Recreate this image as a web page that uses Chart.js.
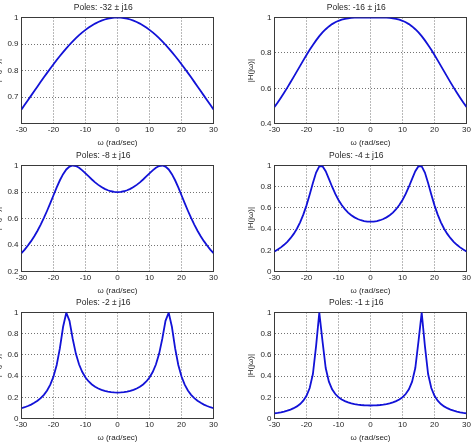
<!DOCTYPE html>
<html><head><meta charset="utf-8">
<script src="https://cdn.jsdelivr.net/npm/chart.js@4.4.1/dist/chart.umd.min.js"></script>
<style>
html,body{margin:0;padding:0;background:#fff;overflow:hidden;width:473px;height:446px;position:relative}
canvas{position:absolute}
</style></head><body>
<script>
// ---------- data ----------
const omega = [-30,-29,-28,-27,-26,-25,-24,-23,-22,-21,-20,-19,-18,-17,-16,-15,-14,-13,-12,-11,-10,-9,-8,-7,-6,-5,-4,-3,-2,-1,0,1,2,3,4,5,6,7,8,9,10,11,12,13,14,15,16,17,18,19,20,21,22,23,24,25,26,27,28,29,30];
const xTicks = [-30,-20,-10,0,10,20,30];
const titles = ['Poles: -32 \u00b1 j16','Poles: -16 \u00b1 j16','Poles: -8 \u00b1 j16','Poles: -4 \u00b1 j16','Poles: -2 \u00b1 j16','Poles: -1 \u00b1 j16'];
const xLabel = '\u03c9 (rad/sec)';
const yLabel = '|H(j\u03c9)|';

const mag32 = [0.6540,0.6711,0.6884,0.7057,0.7231,0.7404,0.7576,0.7746,0.7914,0.8079,0.8240,0.8398,0.8550,0.8698,0.8839,0.8974,0.9101,0.9222,0.9335,0.9439,0.9535,0.9623,0.9701,0.9771,0.9832,0.9883,0.9925,0.9958,0.9981,0.9995,1.0000,0.9995,0.9981,0.9958,0.9925,0.9883,0.9832,0.9771,0.9701,0.9623,0.9535,0.9439,0.9335,0.9222,0.9101,0.8974,0.8839,0.8698,0.8550,0.8398,0.8240,0.8079,0.7914,0.7746,0.7576,0.7404,0.7231,0.7057,0.6884,0.6711,0.6540];
const mag16 = [0.4945,0.5200,0.5468,0.5747,0.6038,0.6337,0.6644,0.6955,0.7267,0.7577,0.7880,0.8173,0.8450,0.8708,0.8944,0.9155,0.9339,0.9496,0.9627,0.9732,0.9815,0.9877,0.9923,0.9955,0.9975,0.9988,0.9995,0.9998,1.0000,1.0000,1.0000,1.0000,1.0000,0.9998,0.9995,0.9988,0.9975,0.9955,0.9923,0.9877,0.9815,0.9732,0.9627,0.9496,0.9339,0.9155,0.8944,0.8708,0.8450,0.8173,0.7880,0.7577,0.7267,0.6955,0.6644,0.6337,0.6038,0.5747,0.5468,0.5200,0.4945];
const mag8 = [0.3406,0.3669,0.3969,0.4303,0.4676,0.5089,0.5547,0.6049,0.6592,0.7168,0.7761,0.8346,0.8888,0.9351,0.9701,0.9918,0.9999,0.9960,0.9829,0.9636,0.9411,0.9175,0.8944,0.8730,0.8539,0.8375,0.8240,0.8135,0.8060,0.8015,0.8000,0.8015,0.8060,0.8135,0.8240,0.8375,0.8539,0.8730,0.8944,0.9175,0.9411,0.9636,0.9829,0.9960,0.9999,0.9918,0.9701,0.9351,0.8888,0.8346,0.7761,0.7168,0.6592,0.6049,0.5547,0.5089,0.4676,0.4303,0.3969,0.3669,0.3406];
const mag4 = [0.1904,0.2083,0.2290,0.2532,0.2817,0.3155,0.3560,0.4050,0.4645,0.5371,0.6247,0.7267,0.8360,0.9339,0.9923,0.9932,0.9457,0.8745,0.8000,0.7324,0.6748,0.6271,0.5882,0.5567,0.5315,0.5116,0.4961,0.4847,0.4768,0.4721,0.4706,0.4721,0.4768,0.4847,0.4961,0.5116,0.5315,0.5567,0.5882,0.6271,0.6748,0.7324,0.8000,0.8745,0.9457,0.9932,0.9923,0.9339,0.8360,0.7267,0.6247,0.5371,0.4645,0.4050,0.3560,0.3155,0.2817,0.2532,0.2290,0.2083,0.1904];
const mag2 = [0.0983,0.1080,0.1194,0.1330,0.1493,0.1691,0.1938,0.2251,0.2659,0.3207,0.3969,0.5063,0.6644,0.8657,0.9981,0.9214,0.7526,0.6106,0.5098,0.4390,0.3881,0.3505,0.3223,0.3007,0.2841,0.2714,0.2617,0.2547,0.2499,0.2471,0.2462,0.2471,0.2499,0.2547,0.2617,0.2714,0.2841,0.3007,0.3223,0.3505,0.3881,0.4390,0.5098,0.6106,0.7526,0.9214,0.9981,0.8657,0.6644,0.5063,0.3969,0.3207,0.2659,0.2251,0.1938,0.1691,0.1493,0.1330,0.1194,0.1080,0.0983];
const mag1 = [0.0496,0.0545,0.0604,0.0674,0.0758,0.0862,0.0992,0.1160,0.1384,0.1696,0.2155,0.2890,0.4207,0.6854,0.9994,0.7296,0.4768,0.3487,0.2770,0.2323,0.2022,0.1809,0.1652,0.1535,0.1446,0.1378,0.1327,0.1290,0.1265,0.1250,0.1245,0.1250,0.1265,0.1290,0.1327,0.1378,0.1446,0.1535,0.1652,0.1809,0.2022,0.2323,0.2770,0.3487,0.4768,0.7296,0.9994,0.6854,0.4207,0.2890,0.2155,0.1696,0.1384,0.1160,0.0992,0.0862,0.0758,0.0674,0.0604,0.0545,0.0496];

const yTicks32 = [0.7,0.8,0.9,1];
const yTicks16 = [0.4,0.6,0.8,1];
const yTicks8  = [0.2,0.4,0.6,0.8,1];
const yTicks0  = [0,0.2,0.4,0.6,0.8,1];
const yMins = [0.6,0.4,0.2,0,0,0];
const yMax = 1;

// ---------- layout / style ----------
const FONT = '"Liberation Sans", Arial, Helvetica, sans-serif';
const TXT = '#262626';
const BLUE = 'rgb(18,18,215)';
const GRID = 'rgba(0,0,0,0.55)';
const AXIS = '#3a3a3a';
const YW = 28.5, XH = 24.3, PADR = 28.5;

const panels = [
  {title: titles[0], values: mag32, ticks: yTicks32, min: yMins[0], showY: false, area: [21.5, 17.5, 213.5, 123.5]},
  {title: titles[1], values: mag16, ticks: yTicks16, min: yMins[1], showY: true,  area: [274.5, 17.5, 466.5, 123.5]},
  {title: titles[2], values: mag8,  ticks: yTicks8,  min: yMins[2], showY: true,  area: [21.5, 165.5, 213.5, 271.5]},
  {title: titles[3], values: mag4,  ticks: yTicks0,  min: yMins[3], showY: true,  area: [274.5, 165.5, 466.5, 271.5]},
  {title: titles[4], values: mag2,  ticks: yTicks0,  min: yMins[4], showY: true,  area: [21.5, 312.5, 213.5, 418.5]},
  {title: titles[5], values: mag1,  ticks: yTicks0,  min: yMins[5], showY: true,  area: [274.5, 312.5, 466.5, 418.5]}
];

const boxPlugin = {
  id: 'box',
  beforeDatasetsDraw(chart) {
    const {ctx, chartArea: a} = chart;
    ctx.save();
    ctx.strokeStyle = AXIS; ctx.lineWidth = 1;
    const l = Math.round(a.left - 0.5) + 0.5, t = Math.round(a.top - 0.5) + 0.5;
    const r = Math.round(a.right - 0.5) + 0.5, b = Math.round(a.bottom - 0.5) + 0.5;
    ctx.strokeRect(l, t, r - l, b - t);
    ctx.restore();
  }
};

function config(p) {
  return {
    type: 'line',
    data: { datasets: [{
      data: omega.map((w, i) => ({x: w, y: p.values[i]})),
      borderColor: BLUE, borderWidth: 1.8, pointRadius: 0, tension: 0, fill: false
    }]},
    options: {
      responsive: false, animation: false, devicePixelRatio: 1,
      layout: { padding: {left: 0, top: 0, bottom: 0, right: PADR} },
      plugins: {
        legend: {display: false}, tooltip: {enabled: false},
        title: { display: true, text: p.title, color: TXT,
          font: {family: FONT, size: 8.5, weight: 'normal'}, padding: {top: 2.8, bottom: 4.5} }
      },
      scales: {
        x: {
          type: 'linear', min: -30, max: 30,
          afterBuildTicks: s => { s.ticks = xTicks.map(v => ({value: v})); },
          afterFit: s => { s.height = XH; },
          ticks: { color: TXT, font: {family: FONT, size: 8}, padding: 1.5, maxRotation: 0, autoSkip: false,
                   callback: v => String(v) },
          grid: { color: GRID, drawTicks: false, lineWidth: 1 },
          border: { display: true, color: AXIS, dash: [1, 2], width: 1 },
          title: { display: true, text: xLabel, color: TXT, font: {family: FONT, size: 8}, padding: 0 }
        },
        y: {
          type: 'linear', min: p.min, max: yMax,
          afterBuildTicks: s => { s.ticks = p.ticks.map(v => ({value: v})); },
          afterFit: s => { s.width = YW; },
          ticks: { color: TXT, font: {family: FONT, size: 8}, padding: 3, autoSkip: false,
                   callback: v => String(v) },
          grid: { color: GRID, drawTicks: false, lineWidth: 1 },
          border: { display: true, color: AXIS, dash: [1, 2], width: 1 },
          title: { display: true, text: yLabel, color: TXT, font: {family: FONT, size: 8}, padding: 0 }
        }
      }
    },
    plugins: [boxPlugin]
  };
}

panels.forEach(p => {
  const [tl, tt, tr, tb] = p.area;
  const cv = document.createElement('canvas');
  let W = Math.round((tr - tl) + YW + PADR), H = Math.round((tb - tt) + 17.5 + XH);
  cv.width = W; cv.height = H; cv.style.width = W + 'px'; cv.style.height = H + 'px';
  document.body.appendChild(cv);
  let chart = new Chart(cv, config(p));
  let a = chart.chartArea;
  const dW = Math.round((tr - tl) - (a.right - a.left));
  const dH = Math.round((tb - tt) - (a.bottom - a.top));
  if (dW !== 0 || dH !== 0) {
    chart.destroy();
    W += dW; H += dH;
    cv.width = W; cv.height = H; cv.style.width = W + 'px'; cv.style.height = H + 'px';
    chart = new Chart(cv, config(p));
    a = chart.chartArea;
  }
  cv.style.left = Math.round(tl - a.left) + 'px';
  cv.style.top = Math.round(tt - a.top) + 'px';
});
</script>
</body></html>
